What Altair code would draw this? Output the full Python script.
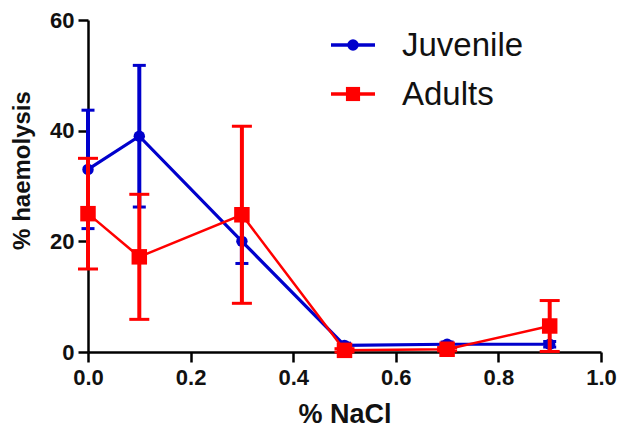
import altair as alt
import pandas as pd

# ---- data ----
nacl = [0.0, 0.1, 0.3, 0.5, 0.7, 0.9]
juvenile_mean = [33.0, 39.0, 20.0, 1.2, 1.4, 1.4]
juvenile_err = [10.7, 12.8, 4.0, 0.4, 0.4, 0.5]
adults_mean = [25.0, 17.2, 24.8, 0.3, 0.5, 4.7]
adults_err = [10.0, 11.3, 16.0, 0.3, 0.3, 4.6]

series_names = ["Juvenile", "Adults"]
series_colors = ["#0000CC", "#FF0000"]

x_ticks = [0.0, 0.2, 0.4, 0.6, 0.8, 1.0]
y_ticks = [0, 20, 40, 60]

FONT = "Liberation Sans"

xscale = alt.Scale(domain=[0, 1], nice=False, zero=False, padding=0)
yscale = alt.Scale(domain=[0, 60], nice=False, zero=False, padding=0)

X_AXIS = alt.Axis(values=x_ticks, format=".1f", title="% NaCl",
                  titleFontSize=27, titleFontWeight="bold", titleY=62,
                  titleBaseline="middle", labelPadding=5, labelFlush=False,
                  labelOverlap=False)
Y_AXIS = alt.Axis(values=y_ticks, format="d", title="% haemolysis",
                  titleFontSize=24, titleFontWeight="bold", titleX=-66, titleY=150,
                  titleAngle=270, titleAlign="center", titleBaseline="middle",
                  labelPadding=4, labelFlush=False, labelOverlap=False)


def series_layers(means, errs, color, line_w, shape, msize, cap_w, err_w, first=False):
    df = pd.DataFrame({
        "x": nacl,
        "y": means,
        "lo": [m - e for m, e in zip(means, errs)],
        "hi": [m + e for m, e in zip(means, errs)],
    })
    base = alt.Chart(df)
    if first:
        X = alt.X("x:Q", scale=xscale, axis=X_AXIS)
        Y = alt.Y("y:Q", scale=yscale, axis=Y_AXIS)
    else:
        X = alt.X("x:Q", scale=xscale)
        Y = alt.Y("y:Q", scale=yscale)
    line = base.mark_line(color=color, strokeWidth=line_w).encode(x=X, y=Y)
    bars = base.mark_rule(color=color, strokeWidth=err_w).encode(
        x=alt.X("x:Q", scale=xscale), y=alt.Y("lo:Q", scale=yscale), y2="hi:Q")
    cap_lo = base.mark_tick(color=color, orient="horizontal", size=cap_w, thickness=3,
                            opacity=1).encode(
        x=alt.X("x:Q", scale=xscale), y=alt.Y("lo:Q", scale=yscale))
    cap_hi = base.mark_tick(color=color, orient="horizontal", size=cap_w, thickness=3,
                            opacity=1).encode(
        x=alt.X("x:Q", scale=xscale), y=alt.Y("hi:Q", scale=yscale))
    pts = base.mark_point(shape=shape, filled=True, size=msize, color=color,
                          opacity=1).encode(x=alt.X("x:Q", scale=xscale),
                                            y=alt.Y("y:Q", scale=yscale))
    return [line, bars, cap_lo, cap_hi, pts]


def legend_layers(label, color, shape, msize, line_w, ypos):
    d = alt.Chart(pd.DataFrame({"label": [label]}))
    ln = d.mark_rule(color=color, strokeWidth=line_w).encode(
        x=alt.value(243), x2=alt.value(287), y=alt.value(ypos))
    pt = d.mark_point(shape=shape, filled=True, size=msize, color=color, opacity=1).encode(
        x=alt.value(265), y=alt.value(ypos))
    tx = d.mark_text(align="left", baseline="middle", fontSize=33, font=FONT,
                     color="#111111").encode(
        x=alt.value(314), y=alt.value(ypos + 1), text="label:N")
    return [ln, pt, tx]


layers = []
layers += series_layers(juvenile_mean, juvenile_err, series_colors[0], 3.2, "circle", 130,
                        13, 4, first=True)
layers += series_layers(adults_mean, adults_err, series_colors[1], 2.5, "square", 240,
                        20, 4)
layers += legend_layers(series_names[0], series_colors[0], "circle", 130, 3.5, 25)
layers += legend_layers(series_names[1], series_colors[1], "square", 200, 3.5, 74)

chart = alt.layer(*layers).properties(
    width=513, height=332,
    autosize=alt.AutoSizeParams(type="none"),
    padding={"left": 80, "top": 12, "right": 17, "bottom": 76},
).configure_view(stroke=None).configure_axis(
    grid=False,
    domainColor="black", domainWidth=2.5,
    tickColor="black", tickWidth=2.5, tickSize=10,
    labelFont=FONT, labelFontSize=22, labelFontWeight="bold", labelColor="#111111",
    titleFont=FONT, titleColor="#111111",
)

chart.save("out.html", embed_options={"renderer": "svg", "actions": False})
